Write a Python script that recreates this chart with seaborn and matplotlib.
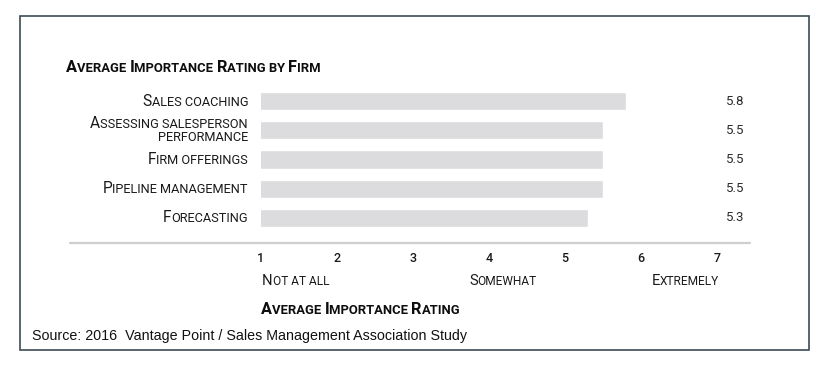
import numpy as np
import pandas as pd
import seaborn as sns
import matplotlib
matplotlib.use("Agg")
import matplotlib.pyplot as plt
from matplotlib.offsetbox import TextArea, HPacker, VPacker, AnnotationBbox
from matplotlib.patches import Rectangle
from matplotlib.lines import Line2D

# ---- data ----
categories = ["Sales coaching", "Assessing salesperson\nperformance",
              "Firm offerings", "Pipeline management", "Forecasting"]
ratings = [5.8, 5.5, 5.5, 5.5, 5.3]
tick_values = [1, 2, 3, 4, 5, 6, 7]
scale_labels = ["Not at all", "Somewhat", "Extremely"]
scale_positions = [1, 4, 7]
title = "Average Importance Rating by Firm"
xlabel = "Average Importance Rating"
source = "Source: 2016  Vantage Point / Sales Management Association Study"

sns.set_theme(style="white")
NARROW = ["Roboto", "DejaVu Sans"]
plt.rcParams["font.family"] = ["Liberation Sans", "DejaVu Sans"]

W, H = 824, 370
fig = plt.figure(figsize=(W / 100, H / 100), dpi=100)

# axes placement in pixels
x_px0, px_per_unit = 261, 76.0
xmax = 7.6
top_px, bot_px = 86.4, 232.6
ax = fig.add_axes([x_px0 / W, 1 - bot_px / H,
                   (xmax - 1) * px_per_unit / W, (bot_px - top_px) / H])

df = pd.DataFrame({"category": categories, "rating": ratings})
sns.barplot(data=df, x="rating", y="category", color="#dcdcde",
            saturation=1, width=0.62, ax=ax, orient="h")
ax.set_xlim(1, xmax)
ax.set_ylim(len(categories) - 0.5, -0.5)
for s in ax.spines.values():
    s.set_visible(False)
ax.set_xlabel("")
ax.set_ylabel("")
ax.set_yticks([])
ax.set_xticks(tick_values)
ax.set_xticklabels([str(t) for t in tick_values], family=NARROW,
                   fontsize=9, color="#1a1a1a", fontweight="medium")
ax.tick_params(axis="x", length=0, pad=14)
ax.grid(False)

# value labels
for i, v in enumerate(ratings):
    ax.text(7.24, i, f"{v:.1f}", ha="center", va="center", fontsize=9.5,
            color="#2a2a2a", clip_on=False, family=NARROW)


def smallcaps_box(text, big, small, weight="normal", family=None, color="#1a1a1a"):
    family = family or NARROW
    lines = text.split("\n")
    rows = []
    for line in lines:
        runs = []
        cur, cur_big = "", None
        for ch in line:
            is_big = ch.isupper() or ch.isdigit()
            if ch == " ":
                is_big = cur_big if cur_big is not None else False
            if cur_big is None or is_big == cur_big:
                cur += ch
                cur_big = is_big
            else:
                runs.append((cur, cur_big))
                cur, cur_big = ch, is_big
        if cur:
            runs.append((cur, cur_big))
        children = [TextArea(r.upper(), textprops=dict(
            fontsize=big if b else small, fontweight=weight,
            family=family, color=color)) for r, b in runs]
        rows.append(HPacker(children=children, align="baseline", pad=0, sep=0))
    if len(rows) == 1:
        return rows[0]
    return VPacker(children=rows, align="right", pad=0, sep=0.0)


def place(box, xy, align):
    ab = AnnotationBbox(box, xy, xycoords="figure pixels", box_alignment=align,
                        frameon=False, pad=0, annotation_clip=False)
    fig.add_artist(ab)


# category labels
for i, c in enumerate(categories):
    b = smallcaps_box(c, 11.2, 9.2)
    ab = AnnotationBbox(b, (248, i), xycoords=("figure pixels", "data"),
                        box_alignment=(1, 0.5), frameon=False, pad=0,
                        annotation_clip=False)
    ax.add_artist(ab)

# title
place(smallcaps_box(title, 11.8, 9.4, weight="bold", color="#0d0d0d"),
      (66, H - 67), (0, 0.5))

# scale descriptors
aligns = [(0, 0.5), (0.5, 0.5), (1, 0.5)]
xs_px = [262, 503, 719]
for lab, xp, al in zip(scale_labels, xs_px, aligns):
    place(smallcaps_box(lab, 10.6, 8.6), (xp, H - 281), al)

# x axis label
place(smallcaps_box(xlabel, 11.7, 9.4, weight="bold", color="#0d0d0d"),
      (261, H - 309), (0, 0.5))

# separator line
fig.add_artist(Line2D([70 / W, 750 / W], [1 - 243 / H, 1 - 243 / H],
                      transform=fig.transFigure, color="#cfcfcf", lw=1.6))

# source
fig.text(32 / W, 1 - 336 / H, source, ha="left", va="center",
         fontsize=10.3, color="#111111")

# frame
fig.add_artist(Rectangle((19.5 / W, 1 - 350 / H), (809 - 19.5) / W,
                         (350 - 15.5) / H, transform=fig.transFigure,
                         fill=False, edgecolor="#3d4b55", lw=1.2))

fig.savefig("out.png", dpi=100)
